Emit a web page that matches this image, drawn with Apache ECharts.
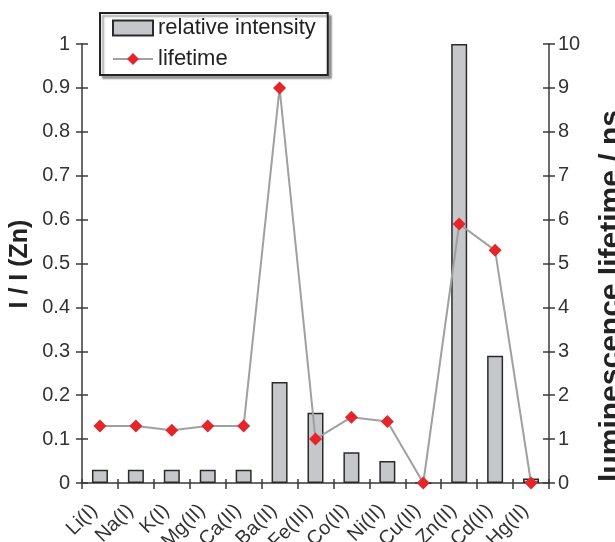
<!DOCTYPE html>
<html>
<head>
<meta charset="utf-8">
<script src="https://cdn.jsdelivr.net/npm/echarts@6/dist/echarts.min.js"></script>
<style>
html,body{margin:0;padding:0;background:#fff;}
#c{width:615px;height:542px;}
</style>
</head>
<body>
<div id="c"></div>
<script>
var categories = ["Li(I)","Na(I)","K(I)","Mg(II)","Ca(II)","Ba(II)","Fe(III)","Co(II)","Ni(II)","Cu(II)","Zn(II)","Cd(II)","Hg(II)"];
var relativeIntensity = [0.03,0.03,0.03,0.03,0.03,0.23,0.16,0.07,0.05,0,1.0,0.29,0.01];
var lifetime = [1.3,1.3,1.2,1.3,1.3,9.0,1.0,1.5,1.4,0,5.9,5.3,0];
var leftTicks = {min:0,max:1,interval:0.1};
var rightTicks = {min:0,max:10,interval:1};

var FONT = "'Liberation Sans', Arial, sans-serif";
var axisColor = '#3a3a3a';
var labelColor = '#333';

var chart = echarts.init(document.getElementById('c'), null, {renderer:'canvas'});
var grid = {left:82, right:66, top:44, bottom:59, containLabel:false, outerBoundsMode:'none'};

function dupX(inside){
  return {type:'category', data:categories, position:'bottom', boundaryGap:true,
    axisLine:{show:!inside, lineStyle:{color:axisColor,width:1.5}},
    axisTick:{show:true, inside:inside, length:inside?4:6, interval:0, alignWithLabel:false, lineStyle:{color:axisColor,width:1.5}},
    axisLabel:inside?{show:false}:{show:true, interval:0, hideOverlap:false, rotate:45, margin:19, padding:[0,8,0,0], fontSize:20, color:labelColor, fontFamily:FONT},
    splitLine:{show:false}};
}
function valY(pos, t, inside){
  return {type:'value', position:pos, min:t.min, max:t.max, interval:t.interval,
    axisLine:{show:!inside, onZero:false, lineStyle:{color:axisColor,width:1.5}},
    axisTick:{show:true, inside:inside, length:6, lineStyle:{color:axisColor,width:1.5}},
    axisLabel:inside?{show:false}:{show:true, margin:pos==='left'?12:9, fontSize:20, color:labelColor, fontFamily:FONT},
    splitLine:{show:false}};
}

var option = {
  animation:false,
  backgroundColor:'#fff',
  grid:grid,
  legend:{
    orient:'vertical', left:100, top:13, width:230,
    backgroundColor:'#fff', borderColor:'#222', borderWidth:2,
    shadowColor:'rgba(0,0,0,0.35)', shadowOffsetX:3, shadowOffsetY:3, shadowBlur:2,
    padding:[4,12,5,12], itemGap:9, itemWidth:40, itemHeight:15,
    textStyle:{fontSize:22, color:'#222', fontFamily:FONT},
    data:[{name:'relative intensity', icon:'rect'},'lifetime']
  },
  xAxis:[dupX(false), dupX(true)],
  yAxis:[valY('left',leftTicks,false), valY('right',rightTicks,false), valY('left',leftTicks,true), valY('right',rightTicks,true)],
  graphic:[
    {type:'text', x:20, y:264, rotation:Math.PI/2,
      style:{text:'I / I (Zn)', font:'bold 25px '+FONT, fill:'#222', textAlign:'center', textVerticalAlign:'middle'}},
    {type:'text', x:612, y:296, rotation:Math.PI/2,
      style:{text:'luminescence lifetime / ns', font:'bold 30px '+FONT, fill:'#222', textAlign:'center', textVerticalAlign:'middle'}}
  ],
  series:[
    {name:'relative intensity', type:'bar', xAxisIndex:0, yAxisIndex:0, data:relativeIntensity, barWidth:16,
      itemStyle:{color:'#c6c7cb', borderColor:'#2b2b2b', borderWidth:1.5}},
    {name:'lifetime', type:'line', xAxisIndex:0, yAxisIndex:1, data:lifetime,
      symbol:'diamond', symbolSize:13, lineStyle:{color:'#a0a0a0', width:2},
      itemStyle:{color:'#e4262b'}, z:5}
  ]
};
chart.setOption(option);
</script>
</body>
</html>
